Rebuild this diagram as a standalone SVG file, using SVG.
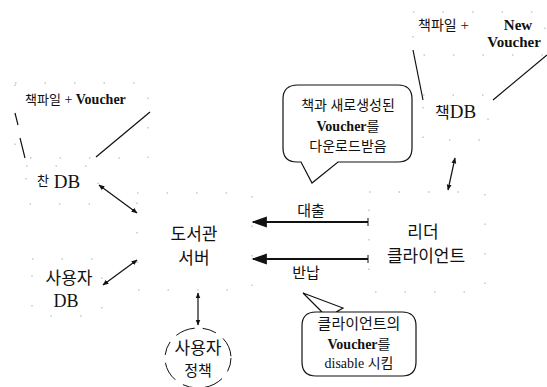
<svg xmlns="http://www.w3.org/2000/svg" width="547" height="387" viewBox="0 0 547 387">
<defs>
<style>
.ko{font-family:"Noto Sans CJK KR","Noto Sans",sans-serif;fill:#111}
.mix{font-family:"Liberation Serif","Noto Sans CJK KR",serif;fill:#111}
.b{font-weight:bold}
.ln{stroke:#111;stroke-width:1.2;fill:none}
.faint{stroke:#aaa;stroke-width:1;fill:none;stroke-dasharray:1.5 28}
.call{stroke:#111;stroke-width:1.2;fill:#fff}
</style>
<marker id="ah" viewBox="0 0 10 10" refX="9" refY="5" markerWidth="7" markerHeight="7" orient="auto-start-reverse">
<path d="M0,1.5 L10,5 L0,8.5 Z" fill="#111"/>
</marker>
<marker id="ahb" viewBox="0 0 10 10" refX="9" refY="5" markerWidth="5" markerHeight="5" orient="auto-start-reverse">
<path d="M0,1 L10,5 L0,9 Z" fill="#111"/>
</marker>
</defs>
<rect width="547" height="387" fill="#fff"/>

<g id="doc-left">
<rect class="faint" x="15" y="83" width="133" height="75"/>
<text class="mix" x="25" y="104" font-size="14"><tspan font-size="13">책파일</tspan> + <tspan class="b">Voucher</tspan></text>
<line class="ln" x1="15" y1="113" x2="18" y2="125"/>
<line class="ln" x1="20" y1="138" x2="25" y2="158"/>
<line class="ln" x1="150" y1="112" x2="96" y2="157"/>
</g>

<g id="db-left">
<rect class="faint" x="26" y="166" width="72" height="38"/>
<text class="mix" x="37" y="188" font-size="19"><tspan font-size="13" dy="-3">찬</tspan><tspan dy="3"> DB</tspan></text>
</g>

<g id="user-db">
<rect class="faint" x="32" y="259" width="70" height="57"/>
<text class="ko" x="69" y="284" font-size="17" text-anchor="middle">사용자</text>
<text class="mix" x="66" y="307" font-size="18" text-anchor="middle">DB</text>
</g>

<g id="server">
<rect class="faint" x="137" y="193" width="115" height="97"/>
<text class="ko" x="194" y="240" font-size="17" text-anchor="middle">도서관</text>
<text class="ko" x="194" y="264" font-size="17" text-anchor="middle">서버</text>
</g>

<g id="client">
<rect class="faint" x="369" y="192" width="116" height="100"/>
<text class="ko" x="423" y="238" font-size="17" text-anchor="middle">리더</text>
<text class="ko" x="426" y="262" font-size="17" text-anchor="middle">클라이언트</text>
</g>

<g id="doc-right">
<rect class="faint" x="413" y="12" width="132" height="43"/>
<text class="mix" x="418" y="30" font-size="15"><tspan font-size="14">책파일</tspan> +</text>
<text class="mix b" x="518" y="30" font-size="15" text-anchor="middle">New</text>
<text class="mix b" x="514" y="47" font-size="15" text-anchor="middle">Voucher</text>
<line class="ln" x1="413" y1="50" x2="423" y2="100"/>
<line class="ln" x1="547" y1="55" x2="493" y2="100"/>
</g>

<g id="db-right">
<rect class="faint" x="423" y="95" width="65" height="45"/>
<text class="mix" x="435" y="118" font-size="19"><tspan font-size="16">책</tspan>DB</text>
</g>

<g id="policy">
<ellipse cx="198" cy="358" rx="33" ry="30" fill="none" stroke="#111" stroke-width="1" stroke-dasharray="14 9 20 8"/>
<text class="ko" x="198" y="354" font-size="17" text-anchor="middle">사용자</text>
<text class="ko" x="198" y="376" font-size="15" text-anchor="middle">정책</text>
</g>

<g id="callout-top">
<path class="call" d="M298,85 L398,85 Q412,85 412,99 L412,148 Q412,162 398,162 L338,162 L312,183 L301,162 L297,162 Q283,162 283,148 L283,99 Q283,85 298,85 Z"/>
<text class="mix" x="348" y="110" font-size="14" text-anchor="middle">책과 새로생성된</text>
<text class="mix" x="348" y="131" font-size="14" text-anchor="middle"><tspan class="b">Voucher</tspan>를</text>
<text class="mix" x="348" y="151" font-size="14" text-anchor="middle">다운로드받음</text>
</g>

<g id="callout-bottom">
<path class="call" d="M316,312 L402,312 Q416,312 416,326 L416,362 Q416,376 402,376 L316,376 Q302,376 302,362 L302,326 Q302,312 316,312 L322,312 L303,293 L343,308 L336,312"/>
<text class="mix" x="359" y="329" font-size="15" text-anchor="middle">클라이언트의</text>
<text class="mix" x="359" y="349" font-size="14" text-anchor="middle"><tspan class="b">Voucher</tspan>를</text>
<text class="mix" x="359" y="368" font-size="14" text-anchor="middle">disable 시킴</text>
</g>

<g id="connectors">
<line class="ln" x1="99" y1="185" x2="137" y2="213" marker-start="url(#ahb)" marker-end="url(#ahb)"/>
<line class="ln" x1="103" y1="285" x2="137" y2="260" marker-start="url(#ahb)" marker-end="url(#ahb)"/>
<line class="ln" x1="455" y1="158" x2="448" y2="190" marker-start="url(#ahb)" marker-end="url(#ahb)"/>
<line class="ln" x1="198" y1="293" x2="198" y2="325" marker-start="url(#ahb)" marker-end="url(#ahb)"/>
<line x1="368" y1="222" x2="253" y2="222" stroke="#111" stroke-width="2.2" marker-end="url(#ah)"/>
<line x1="368" y1="218" x2="368" y2="226" stroke="#111" stroke-width="1"/>
<line x1="368" y1="259" x2="253" y2="259" stroke="#111" stroke-width="2.2" marker-end="url(#ah)"/>
<line x1="368" y1="255" x2="368" y2="263" stroke="#111" stroke-width="1"/>
<text class="ko" x="311" y="216" font-size="15" text-anchor="middle">대출</text>
<text class="ko" x="306" y="278" font-size="15" text-anchor="middle">반납</text>
</g>
</svg>
